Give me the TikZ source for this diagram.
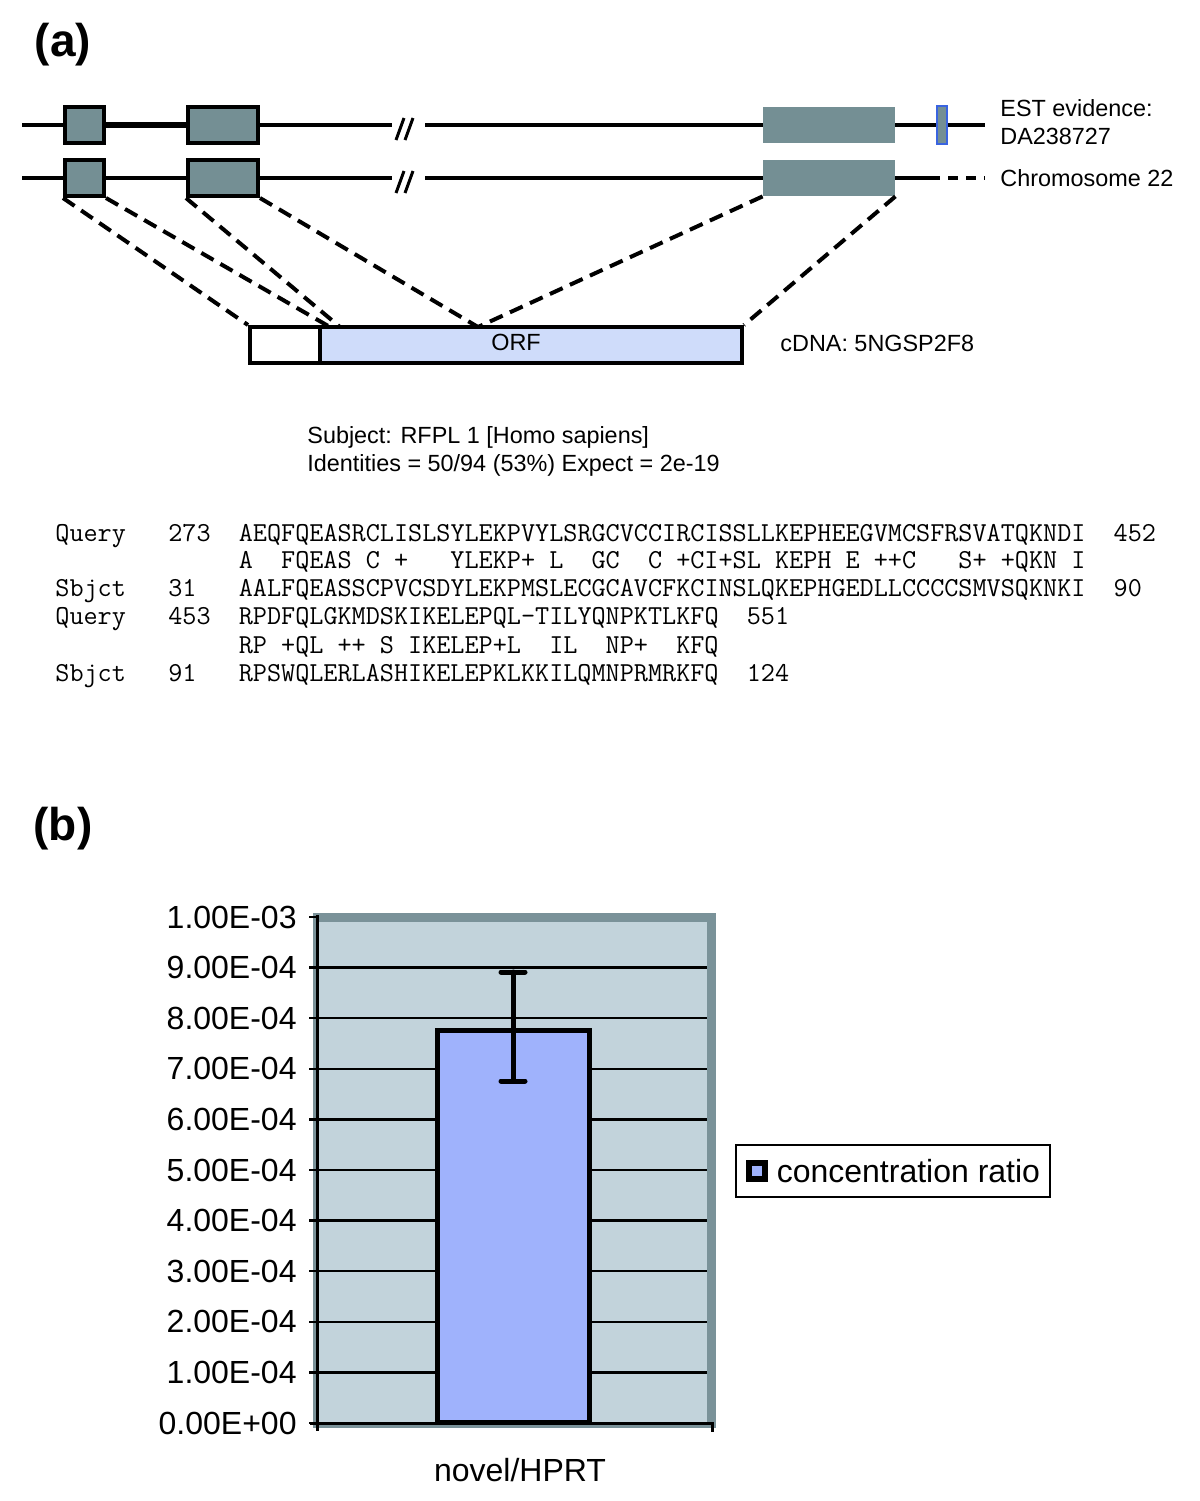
\documentclass[tikz,border=0pt]{standalone}
\usepackage{fontspec}
\setmainfont{Liberation Sans}
\usepackage{xcolor}
\usepackage{tikz}
\usetikzlibrary{shapes,positioning}
\definecolor{exongrey}{RGB}{116,143,148}
\definecolor{orfblue}{RGB}{207,220,250}
\definecolor{estblue}{RGB}{58,100,224}
\definecolor{framegrey}{RGB}{122,146,153}
\definecolor{plotbg}{RGB}{194,211,219}
\definecolor{barblue}{RGB}{159,178,252}
\tikzstyle{exon}=  [draw,
rectangle,
fill=exongrey,
line width=2pt,
inner sep=0,
minimum height=18pt,
]
\tikzstyle{bigexon}=  [rectangle,
fill=exongrey,
inner sep=0,
minimum width=66pt,
minimum height=18pt,
]
\tikzstyle{estexon}=  [draw=estblue,
fill=exongrey,
line width=1.2pt,
inner sep=0,
minimum width=5pt,
minimum height=19pt,
]
\tikzstyle{seg}=  [draw,
rectangle,
line width=2pt,
inner sep=0,
minimum height=18pt,
]
\tikzstyle{track}=  [line width=2pt]
\tikzstyle{proj}=  [line width=2pt, dash pattern=on 7pt off 4pt]
\tikzstyle{lbl}=  [font=\fontsize{11.7}{14}\selectfont,
anchor=west,
inner sep=0,
text height=8.5pt,
text depth=2.5pt,
]
\tikzstyle{aln}=  [font=\fontsize{13.7}{14}\selectfont\ttfamily,
anchor=west,
inner sep=0,
text height=9pt,
text depth=3pt,
]
\tikzstyle{panel}=  [font=\fontsize{23}{26}\selectfont\bfseries, inner sep=0]
\tikzstyle{ylab}=  [font=\fontsize{16}{18}\selectfont, anchor=east, inner sep=0]
\tikzstyle{bar}=  [draw,
rectangle,
fill=barblue,
line width=2.5pt,
inner sep=0,
minimum width=76pt,
minimum height=196pt,
]
\tikzstyle{errbar}=  [line width=2.5pt, line cap=round]

\begin{document}
\begin{tikzpicture}[x=0.5pt,y=-0.5pt]
        \useasboundingbox (0,0) rectangle (1200,1501);
        \node[panel] (pa) at (63,45) {(a)};

        \node[exon, minimum width=19.5pt] (e1a) at (84.5,125) {};
        \node[exon, minimum width=35pt] (e2a) at (223,125) {};
        \node[bigexon] (e3a) at (829,125) {};
        \node[estexon] (est) at (942,125) {};
        \node[exon, minimum width=19.5pt] (e1b) at (84.5,178) {};
        \node[exon, minimum width=35pt] (e2b) at (223,178) {};
        \node[bigexon] (e3b) at (829,178) {};

        \coordinate (s1) at (22,125);
        \coordinate (b1l) at (392,125);
        \coordinate (b1r) at (425,125);
        \coordinate (t1) at (985,125);
        \coordinate (s2) at (22,178);
        \coordinate (b2l) at (392,178);
        \coordinate (b2r) at (425,178);
        \coordinate (d2) at (930,178);
        \coordinate (t2) at (985,178);

        \draw[track] (s1) -- (e1a.west) (e2a.east) -- (b1l) (b1r) -- (e3a.west)
        (e3a.east) -- (est.west) (est.east) -- (t1);
        \draw[line width=3pt] (e1a.east) -- (e2a.west);
        \draw[track] (s2) -- (e1b.west) (e1b.east) -- (e2b.west) (e2b.east) -- (b2l)
        (b2r) -- (e3b.west) (e3b.east) -- (d2);
        \draw[line width=2pt, dash pattern=on 5pt off 4pt] (d2) -- (t2);
        \draw[line width=1.5pt] (396,140) -- (404,118) (405,140) -- (413,118);
        \draw[line width=1.5pt] (396,193) -- (404,171) (405,193) -- (413,171);

        \node[lbl] (estlab) at (1000,110) {EST evidence:};
        \node[lbl] (estid) at (1000,138) {DA238727};
        \node[lbl] (chrlab) at (1000,180) {Chromosome 22};

        \node[seg, fill=white, minimum width=35pt] (utr) at (285,345) {};
        \node[seg, fill=orfblue, minimum width=211pt] (orf) at (531,345) {};
        \node[lbl, anchor=center] (orflab) at (516,344) {ORF};
        \node[lbl, right=18pt of orf] (cdna) {cDNA: 5NGSP2F8};

        \coordinate (j1) at (330,327);
        \coordinate (j2) at (340,327);
        \coordinate (j3) at (478,327);

        \draw[proj] (e1b.south west) -- (utr.north west)
        (e1b.south east) -- (j1)
        (e2b.south west) -- (j2)
        (e2b.south east) -- (j3)
        (e3b.south west) -- (j3)
        (e3b.south east) -- (orf.north east);

        \node[lbl] (subj) at (307,437) {Subject: RFPL 1 [Homo sapiens]};
        \node[lbl] (ident) at (307,465) {Identities = 50/94 (53\%) Expect = 2e-19};

        \node[aln] (q1) at (55,535) {Query~~~273~~AEQFQEASRCLISLSYLEKPVYLSRGCVCCIRCISSLLKEPHEEGVMCSFRSVATQKNDI~~452};
        \node[aln] (m1) at (55,562) {~~~~~~~~~~~~~A~~FQEAS~C~+~~~YLEKP+~L~~GC~~C~+CI+SL~KEPH~E~++C~~~S+~+QKN~I};
        \node[aln] (h1) at (55,590) {Sbjct~~~31~~~AALFQEASSCPVCSDYLEKPMSLECGCAVCFKCINSLQKEPHGEDLLCCCCSMVSQKNKI~~90};
        \node[aln] (q2) at (55,618) {Query~~~453~~RPDFQLGKMDSKIKELEPQL-TILYQNPKTLKFQ~~551};
        \node[aln] (m2) at (55,647) {~~~~~~~~~~~~~RP~+QL~++~S~IKELEP+L~~IL~~NP+~~KFQ};
        \node[aln] (h2) at (55,675) {Sbjct~~~91~~~RPSWQLERLASHIKELEPKLKKILQMNPRMRKFQ~~124};

        \node[panel] (pb) at (63,829) {(b)};

        \fill[framegrey] (313,913) rectangle (716,1428);
        \fill[plotbg] (319,922) rectangle (707,1423);
        \foreach \v in {1,...,9}
        \draw[line width=1.2pt] (319,{1423-50.6*\v}) -- (707,{1423-50.6*\v});
        \foreach \v/\lab in {0/0.00E+00,1/1.00E-04,2/2.00E-04,3/3.00E-04,4/4.00E-04,5/5.00E-04,6/6.00E-04,7/7.00E-04,8/8.00E-04,9/9.00E-04,10/1.00E-03}
        {
            \draw[line width=1.2pt] (309,{1423-50.6*\v}) -- (317,{1423-50.6*\v});
            \node[ylab] (y\v) at (297,{1423-50.6*\v}) {\lab};
        }
        \draw[line width=1.5pt] (317,915) -- (317,1431);
        \draw[line width=1.5pt] (310,1423) -- (712,1423) -- (712,1432);

        \node[bar] (bar) at (513.5,1226.75) {};
        \coordinate (errhi) at (513,972);
        \coordinate (errlo) at (513,1081);
        \draw[errbar] (errlo) -- (errhi);
        \draw[errbar] ([xshift=-6pt]errhi) -- ([xshift=6pt]errhi);
        \draw[errbar] ([xshift=-6pt]errlo) -- ([xshift=6pt]errlo);

        \node[font=\fontsize{16}{18}\selectfont, inner sep=0] (xlab) at (520,1470) {novel/HPRT};

        \node[draw, line width=0.8pt, minimum width=157pt, minimum height=26pt] (legend) at (893,1171) {};
        \node[fill=black, minimum size=11pt, inner sep=0] (legkey) at (757,1171) {};
        \node[fill=barblue, minimum size=5pt, inner sep=0] (legfill) at (legkey) {};
        \node[font=\fontsize{16}{18}\selectfont, inner sep=0, right=4pt of legkey] (legtext) {concentration ratio};
    \end{tikzpicture}
\end{document}
